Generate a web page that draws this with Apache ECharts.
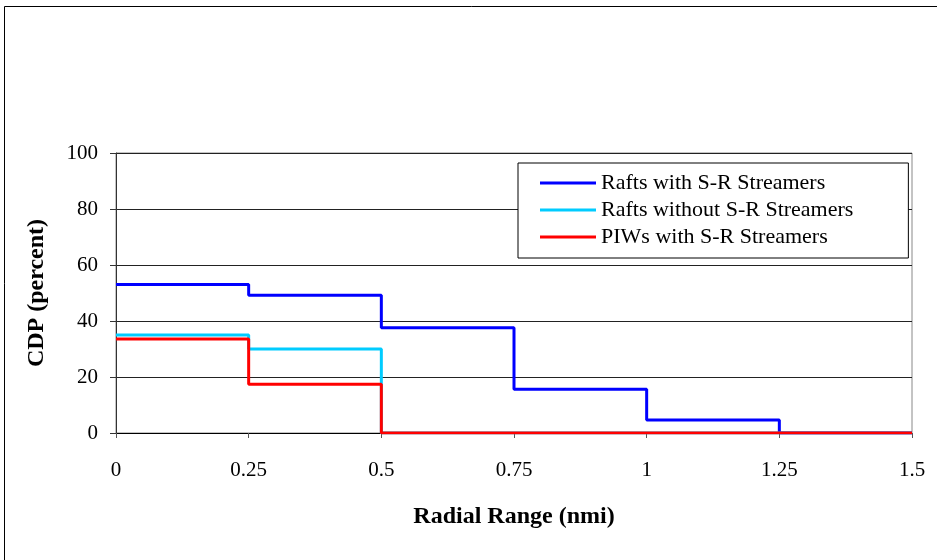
<!DOCTYPE html>
<html>
<head>
<meta charset="utf-8">
<script src="https://cdn.jsdelivr.net/npm/echarts@6/dist/echarts.min.js"></script>
<style>
  html, body { margin: 0; padding: 0; background: #fff; }
  #chart { width: 937px; height: 560px; }
</style>
</head>
<body>
<div id="chart"></div>
<script>
// radial range breakpoints (nmi)
var ranges = [0, 0.25, 0.5, 0.75, 1, 1.25, 1.5];
// CDP (percent) per range bin, held until next breakpoint
var raftsWith = [53, 49.2, 37.6, 15.6, 4.6, 0, 0];
var raftsWithout = [35, 30, 0, 0, 0, 0, 0];
var piwsWith = [33.6, 17.4, 0, 0, 0, 0, 0];

var seriesNames = ['Rafts with S-R Streamers', 'Rafts without S-R Streamers', 'PIWs with S-R Streamers'];
var seriesColors = ['#0000ff', '#00ccff', '#ff0000'];

function pairs(vals) {
  return ranges.map(function (x, i) { return [x, vals[i]]; });
}

var chart = echarts.init(document.getElementById('chart'));
var font = '"Liberation Serif", "Times New Roman", serif';

chart.setOption({
  animation: false,
  textStyle: { fontFamily: font },
  graphic: [{
    type: 'rect',
    shape: { x: 4.5, y: 6.5, width: 960, height: 600 },
    style: { fill: 'none', stroke: '#000', lineWidth: 1 },
    silent: true
  }],
  grid: {
    left: 116, right: 25, top: 153, bottom: 127,
    show: true, borderColor: '#888', borderWidth: 1
  },
  legend: {
    left: 518, top: 163,
    orient: 'vertical',
    backgroundColor: '#fff',
    borderColor: '#000', borderWidth: 1,
    padding: [9, 55, 10, 22],
    itemGap: 5,
    itemWidth: 56, itemHeight: 3,
    icon: 'rect',
    textStyle: { fontFamily: font, fontSize: 22, lineHeight: 20, color: '#000' },
    data: seriesNames
  },
  xAxis: {
    type: 'value',
    min: 0, max: 1.5, interval: 0.25,
    name: 'Radial Range (nmi)',
    nameLocation: 'middle', nameGap: 72,
    nameTextStyle: { fontFamily: font, fontSize: 24, fontWeight: 'bold', color: '#000' },
    axisLine: { lineStyle: { color: '#000', width: 1 } },
    axisTick: { show: true, inside: false, length: 5, lineStyle: { color: '#555' } },
    axisLabel: { fontFamily: font, fontSize: 21, color: '#000', margin: 27 },
    splitLine: { show: false }
  },
  yAxis: {
    type: 'value',
    min: 0, max: 100, interval: 20,
    name: 'CDP (percent)',
    nameLocation: 'middle', nameGap: 67,
    nameTextStyle: { fontFamily: font, fontSize: 24, fontWeight: 'bold', color: '#000' },
    axisLine: { show: true, lineStyle: { color: '#333', width: 1 } },
    axisTick: { show: true, inside: false, length: 6, lineStyle: { color: '#333' } },
    axisLabel: { fontFamily: font, fontSize: 21, color: '#000', margin: 18 },
    splitLine: { show: true, lineStyle: { color: '#222', width: 1 } }
  },
  series: [
    { name: seriesNames[0], type: 'line', step: 'end', data: pairs(raftsWith),
      symbol: 'none', lineStyle: { width: 3, color: seriesColors[0] }, itemStyle: { color: seriesColors[0] } },
    { name: seriesNames[1], type: 'line', step: 'end', data: pairs(raftsWithout),
      symbol: 'none', lineStyle: { width: 3, color: seriesColors[1] }, itemStyle: { color: seriesColors[1] } },
    { name: seriesNames[2], type: 'line', step: 'end', data: pairs(piwsWith),
      symbol: 'none', lineStyle: { width: 3, color: seriesColors[2] }, itemStyle: { color: seriesColors[2] } }
  ]
});
</script>
</body>
</html>
